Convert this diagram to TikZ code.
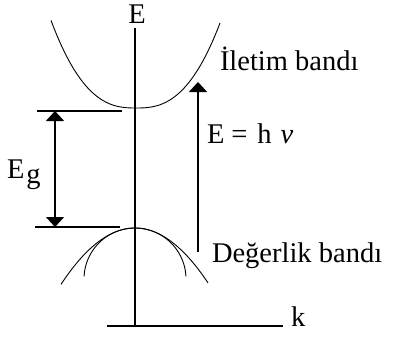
\documentclass[tikz,border=0pt]{standalone}
\usepackage{fontspec}
\setmainfont{Liberation Serif}
\usetikzlibrary{arrows.meta}
\tikzset{tri/.tip={Triangle[width=18pt,length=10pt]}}
\begin{document}
\begin{tikzpicture}[x=1pt,y=-1pt,
  thickline/.style={line width=1.6pt},
  band/.style={line width=0.9pt},
  lbl/.style={font=\fontsize{28.5}{30}\selectfont, inner sep=0pt, outer sep=0pt}]
\useasboundingbox (0,0) rectangle (393,340);
% axes
\coordinate (Etop) at (135,28);
\coordinate (origin) at (135,326);
\coordinate (kL) at (107,326);
\coordinate (kR) at (283,326);
\draw[thickline] (Etop) -- (origin);
\draw[thickline] (kL) -- (kR);
\node[lbl, anchor=base] (E) at (137,23) {E};
\node[lbl, anchor=base west] (k) at (291,326) {k};
% conduction band
\draw[band] plot[domain=-85:84, samples=80, smooth] ({136+\x},{108-85*pow(abs(\x)/84,2.6)});
% valence bands
\draw[band] plot[domain=-74:73, samples=60, smooth] ({135+\x},{228+0.0103*\x*\x});
\draw[band] plot[domain=3:177, samples=60, smooth] ({135+51*cos(\x)},{279-51*sin(\x)});
% band edge lines
\coordinate (cL) at (37,111);
\coordinate (cR) at (122,111);
\coordinate (vL) at (35,227);
\coordinate (vR) at (120,227);
\draw[thickline] (cL) -- (cR);
\draw[thickline] (vL) -- (vR);
% Eg arrow
\coordinate (EgT) at (55,111);
\coordinate (EgB) at (55,227);
\draw[thickline, tri-tri] (EgT) -- (EgB);
\node[lbl, anchor=base west] (Eg) at (7,178) {E\kern2pt\raisebox{-5pt}{g}};
% photon arrow
\coordinate (phB) at (198,252);
\coordinate (phT) at (198,82);
\draw[thickline, -tri] (phB) -- (phT);
\node[lbl, anchor=base west] (hv) at (207,143) {E\kern7pt=\kern10pt h\kern9pt\textit{ν}};
% labels
\node[lbl, anchor=base west] (cb) at (220,70) {İletim bandı};
\node[lbl, anchor=base west] (vb) at (212,262) {Değerlik bandı};
\end{tikzpicture}
\end{document}
